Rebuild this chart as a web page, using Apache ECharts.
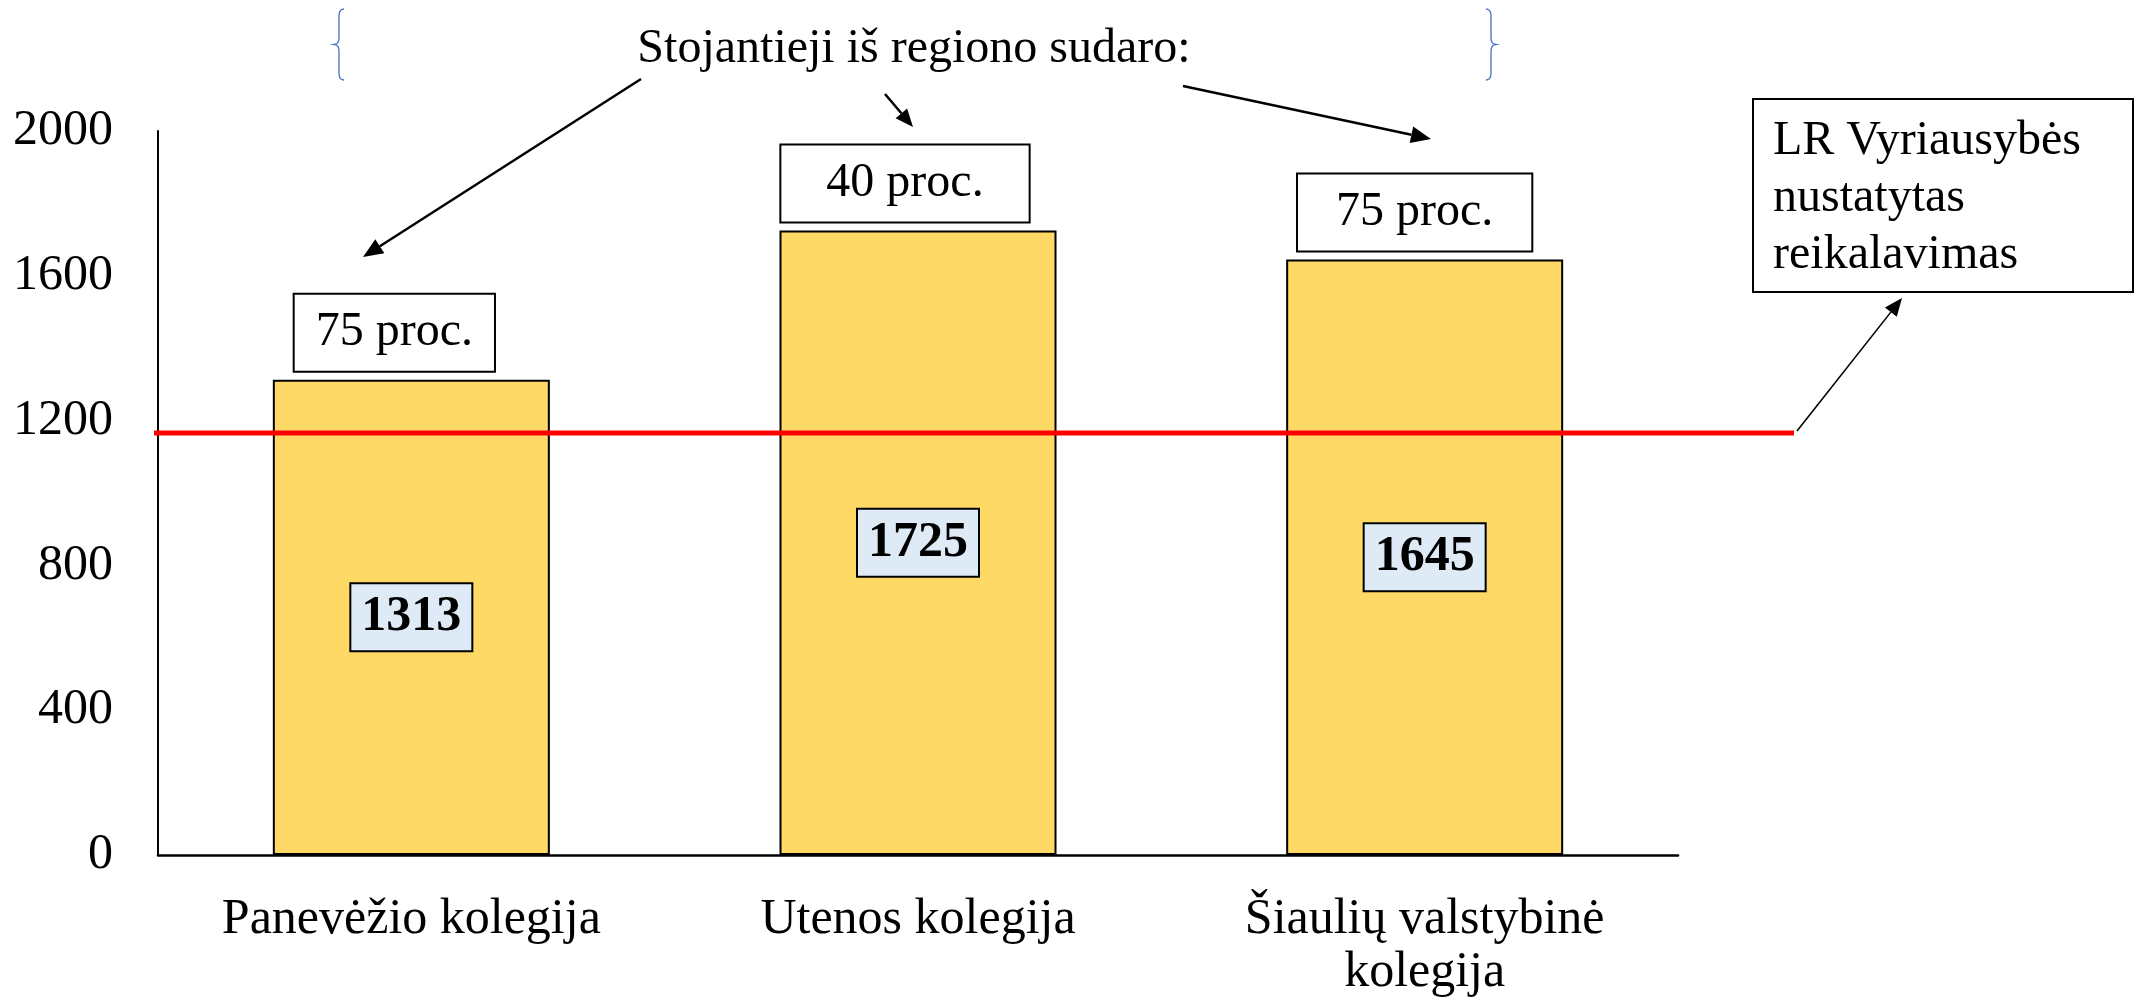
<!DOCTYPE html>
<html>
<head>
<meta charset="utf-8">
<script src="https://cdn.jsdelivr.net/npm/echarts@6/dist/echarts.min.js"></script>
<style>
html, body { margin: 0; padding: 0; background: #fff; }
#chart { width: 2134px; height: 999px; }
</style>
</head>
<body>
<div id="chart"></div>
<script>
// duomenys
var colleges = ['Panevėžio kolegija', 'Utenos kolegija', 'Šiaulių valstybinė\nkolegija'];
var applicants = [1313, 1725, 1645];
var regionShare = ['75 proc.', '40 proc.', '75 proc.'];
var requirement = 1170;
var yTicks = [0, 400, 800, 1200, 1600, 2000];

var FONT = '"Liberation Serif", "Times New Roman", serif';

// rodyklė: linija + trikampis gale
function arrow(x1, y1, x2, y2, w, head) {
    var dx = x2 - x1, dy = y2 - y1;
    var len = Math.sqrt(dx * dx + dy * dy);
    var ux = dx / len, uy = dy / len;
    var bx = x2 - ux * head, by = y2 - uy * head;
    var hw = head * 0.42;
    return [
        {type: 'line', shape: {x1: x1, y1: y1, x2: bx, y2: by}, style: {stroke: '#000', lineWidth: w}},
        {type: 'polygon', shape: {points: [[x2, y2], [bx - uy * hw, by + ux * hw], [bx + uy * hw, by - ux * hw]]}, style: {fill: '#000'}}
    ];
}

// riestinis skliaustas (dir = 1 kairinis, -1 dešininis)
function brace(x, top, bottom, dir) {
    var mid = (top + bottom) / 2;
    var c = 5 * dir;
    function q(p0, p1, p2) {
        var out = [];
        for (var t = 0; t <= 1.001; t += 0.2) {
            var a = (1 - t) * (1 - t), b = 2 * (1 - t) * t, d = t * t;
            out.push([a * p0[0] + b * p1[0] + d * p2[0], a * p0[1] + b * p1[1] + d * p2[1]]);
        }
        return out;
    }
    var pts = [].concat(
        q([x + c, top], [x, top], [x, top + 7]),
        q([x, mid - 7], [x, mid], [x - c, mid]),
        q([x - c, mid], [x, mid], [x, mid + 7]),
        q([x, bottom - 7], [x, bottom], [x + c, bottom])
    );
    return {type: 'polyline', shape: {points: pts}, style: {stroke: '#4472C4', fill: null, lineWidth: 1.3}};
}

var myChart = echarts.init(document.getElementById('chart'));

var graphics = [].concat(
    arrow(641, 79, 363, 257, 2.5, 20),
    arrow(885, 94, 913, 127, 2.5, 18),
    arrow(1183, 86, 1431, 139, 2.5, 20),
    arrow(1797, 431, 1902, 298, 1.6, 18),
    [
        brace(339, 9, 80, 1),
        brace(1491, 9, 80, -1),
        {
            type: 'text', x: 914, y: 49,
            style: {text: 'Stojantieji iš regiono sudaro:', font: '48px ' + FONT, fill: '#000', align: 'center', verticalAlign: 'middle'}
        },
        {
            type: 'rect',
            shape: {x: 1753, y: 99, width: 380, height: 193},
            style: {fill: '#fff', stroke: '#000', lineWidth: 2}
        },
        {
            type: 'text', x: 1773, y: 113,
            style: {text: 'LR Vyriausybės\nnustatytas\nreikalavimas', font: '48px ' + FONT, fill: '#000', lineHeight: 57, align: 'left', verticalAlign: 'top'}
        }
    ]
);

var option = {
    backgroundColor: '#fff',
    animation: false,
    textStyle: {fontFamily: FONT},
    grid: [
        {left: 158, right: 456, top: 131, bottom: 140},
        {left: 154, right: 340, top: 131, bottom: 140}
    ],
    xAxis: [
        {
            type: 'category',
            gridIndex: 0,
            data: colleges,
            axisLine: {lineStyle: {color: '#000', width: 2.5}},
            axisTick: {show: false},
            axisLabel: {color: '#000', fontSize: 50, fontFamily: FONT, lineHeight: 53, margin: 38, interval: 0}
        },
        {type: 'value', gridIndex: 1, min: 0, max: 1, show: false}
    ],
    yAxis: [
        {
            type: 'value',
            gridIndex: 0,
            min: yTicks[0],
            max: yTicks[yTicks.length - 1],
            interval: yTicks[1] - yTicks[0],
            axisLine: {show: true, lineStyle: {color: '#000', width: 2}},
            axisTick: {show: false},
            splitLine: {show: false},
            axisLabel: {
                color: '#000', fontSize: 50, fontFamily: FONT, margin: 45,
                formatter: function (v) { return String(v); }
            }
        },
        {type: 'value', gridIndex: 1, min: yTicks[0], max: yTicks[yTicks.length - 1], show: false}
    ],
    series: [
        {
            name: 'Stojantieji',
            type: 'bar',
            xAxisIndex: 0,
            yAxisIndex: 0,
            data: applicants,
            barWidth: 277,
            itemStyle: {color: '#FFD966', borderColor: '#000', borderWidth: 2},
            label: {
                show: true,
                position: 'inside',
                color: '#000',
                fontSize: 50,
                fontWeight: 'bold',
                fontFamily: FONT,
                lineHeight: 50,
                backgroundColor: '#DEEBF7',
                borderColor: '#000',
                borderWidth: 2,
                padding: [8, 10, 8, 10]
            },
            z: 2
        },
        {
            name: 'Regiono dalis',
            type: 'bar',
            xAxisIndex: 0,
            yAxisIndex: 0,
            barGap: '-100%',
            barWidth: 277,
            silent: true,
            itemStyle: {color: 'rgba(0,0,0,0)'},
            data: applicants.map(function (v, i) {
                var pad = [21, 45, 38][i];
                return {
                    value: v,
                    label: {
                        formatter: regionShare[i],
                        padding: [14, pad, 14, pad],
                        offset: [[-17, -13, -10][i], 0]
                    }
                };
            }),
            label: {
                show: true,
                position: 'top',
                distance: 9,
                color: '#000',
                fontSize: 48,
                fontFamily: FONT,
                lineHeight: 48,
                backgroundColor: '#fff',
                borderColor: '#000',
                borderWidth: 2
            },
            z: 3
        },
        {
            name: 'Reikalavimas',
            type: 'line',
            xAxisIndex: 1,
            yAxisIndex: 1,
            data: [[0, requirement], [1, requirement]],
            symbol: 'none',
            lineStyle: {color: '#FF0000', width: 5},
            z: 4
        }
    ],
    graphic: graphics
};

myChart.setOption(option);
</script>
</body>
</html>
